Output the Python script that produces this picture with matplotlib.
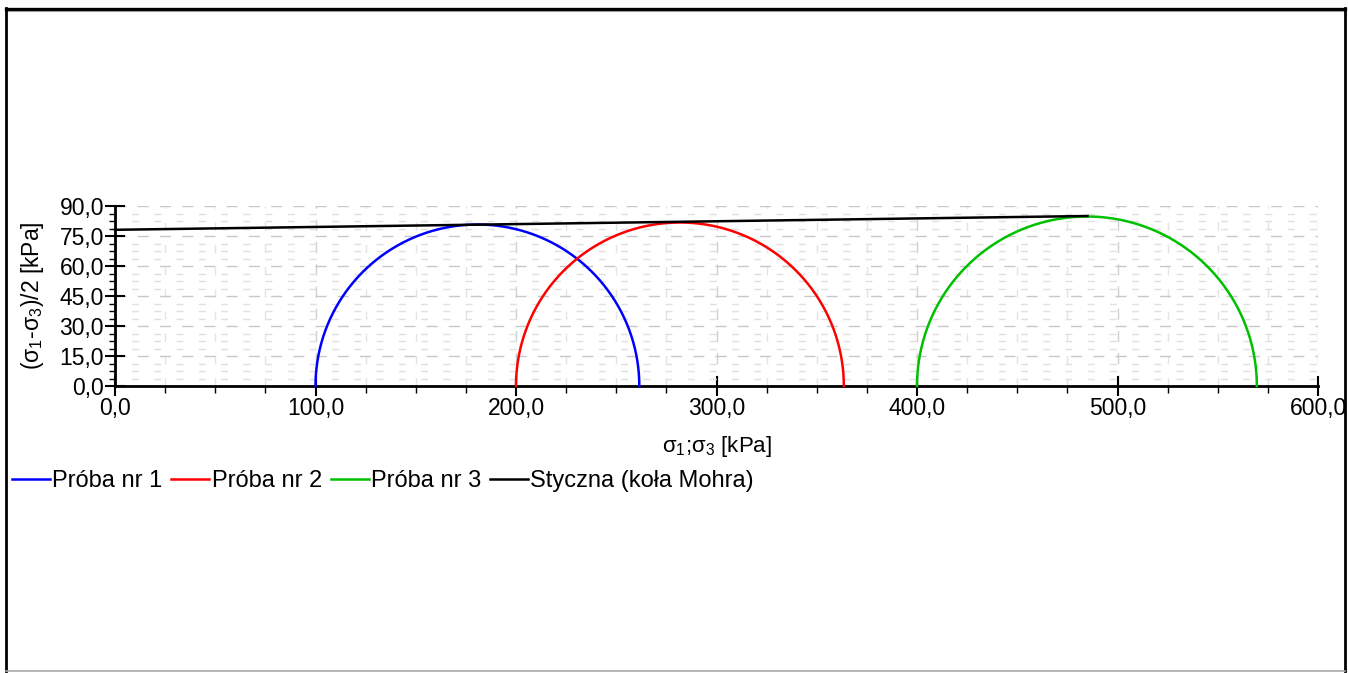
import numpy as np
import matplotlib
matplotlib.use("Agg")
import matplotlib.pyplot as plt
from matplotlib.ticker import MultipleLocator, FuncFormatter
from matplotlib.lines import Line2D

plt.rcParams['font.family'] = ['Liberation Sans', 'DejaVu Sans']
plt.rcParams['mathtext.fontset'] = 'custom'
plt.rcParams['mathtext.rm'] = 'Liberation Sans'
plt.rcParams['mathtext.it'] = 'Liberation Sans'

# Data
series_names = ["Próba nr 1", "Próba nr 2", "Próba nr 3"]
sigma3 = [100.0, 200.0, 400.0]
sigma1 = [261.5, 363.5, 569.5]
colors = ["#0000ff", "#ff0000", "#00c000"]
tangent_x = [0.0, 485.0]
tangent_y = [78.1, 85.0]
tangent_name = "Styczna (koła Mohra)"

W, H = 1348, 673
fig = plt.figure(figsize=(W / 100, H / 100), dpi=100)
ax = fig.add_axes([115 / W, 1 - 386 / H, (1318 - 115) / W, (386 - 206) / H])

# Figure frame
fig.add_artist(Line2D([6 / W, 1345 / W], [1 - 8.5 / H, 1 - 8.5 / H], color='black', lw=2.4, transform=fig.transFigure))
fig.add_artist(Line2D([6 / W, 1345 / W], [1 - 10.5 / H, 1 - 10.5 / H], color='#999999', lw=0.8, transform=fig.transFigure))
fig.add_artist(Line2D([6 / W, 6 / W], [1 - 8 / H, 1 - 671 / H], color='black', lw=2.0, transform=fig.transFigure))
fig.add_artist(Line2D([1345 / W, 1345 / W], [1 - 8 / H, 1 - 671 / H], color='black', lw=2.0, transform=fig.transFigure))
fig.add_artist(Line2D([6 / W, 1345 / W], [1 - 671 / H, 1 - 671 / H], color='#aaaaaa', lw=1.2, transform=fig.transFigure))

theta = np.linspace(0, np.pi, 400)
for name, s3, s1, c in zip(series_names, sigma3, sigma1, colors):
    cen = (s1 + s3) / 2
    r = (s1 - s3) / 2
    ax.plot(cen + r * np.cos(theta), r * np.sin(theta), color=c, lw=1.8, label=name, zorder=3, clip_on=False)
ax.plot(tangent_x, tangent_y, color='black', lw=1.8, label=tangent_name, zorder=4, clip_on=False)

ax.set_xlim(0, 600)
ax.set_ylim(0, 90)

ax.xaxis.set_major_locator(MultipleLocator(100))
ax.xaxis.set_minor_locator(MultipleLocator(25))
ax.yaxis.set_major_locator(MultipleLocator(15))
ax.yaxis.set_minor_locator(MultipleLocator(3.75))
fmt = FuncFormatter(lambda v, p: f"{v:.1f}".replace('.', ','))
ax.xaxis.set_major_formatter(fmt)
ax.yaxis.set_major_formatter(fmt)

for s in ['top', 'right']:
    ax.spines[s].set_visible(False)
for s in ['left', 'bottom']:
    ax.spines[s].set_linewidth(2.0)

ax.tick_params(axis='both', which='major', direction='inout', length=14, width=1.5, labelsize=16.5, pad=1)
ax.tick_params(axis='x', which='minor', direction='out', length=5, width=1.0)
ax.tick_params(axis='y', which='minor', direction='out', length=4, width=1.0)

ax.grid(which='major', axis='y', color='#c8c8c8', linestyle=(0, (8, 8)), lw=1.0, zorder=0)
ax.grid(which='minor', axis='y', color='#e0e0e0', linestyle=(4, (5, 11)), lw=1.0, zorder=0)
ax.grid(which='major', axis='x', color='#d0d0d0', linestyle=(0, (8, 8)), lw=1.0, zorder=0)
ax.grid(which='minor', axis='x', color='#e4e4e4', linestyle=(0, (6, 10)), lw=1.0, zorder=0)
ax.set_axisbelow(True)

ax.set_xlabel("σ$_1$;σ$_3$ [kPa]", fontsize=16, labelpad=10)
ax.set_ylabel("(σ$_1$-σ$_3$)/2 [kPa]", fontsize=16.5, labelpad=10)

leg = fig.legend(loc='center left', bbox_to_anchor=(12 / W, 1 - 481 / H), ncol=4, frameon=False,
                 fontsize=17, handlelength=1.6, handletextpad=0.1, columnspacing=0.38,
                 borderaxespad=0, borderpad=0)

fig.savefig("out.png", dpi=100)
